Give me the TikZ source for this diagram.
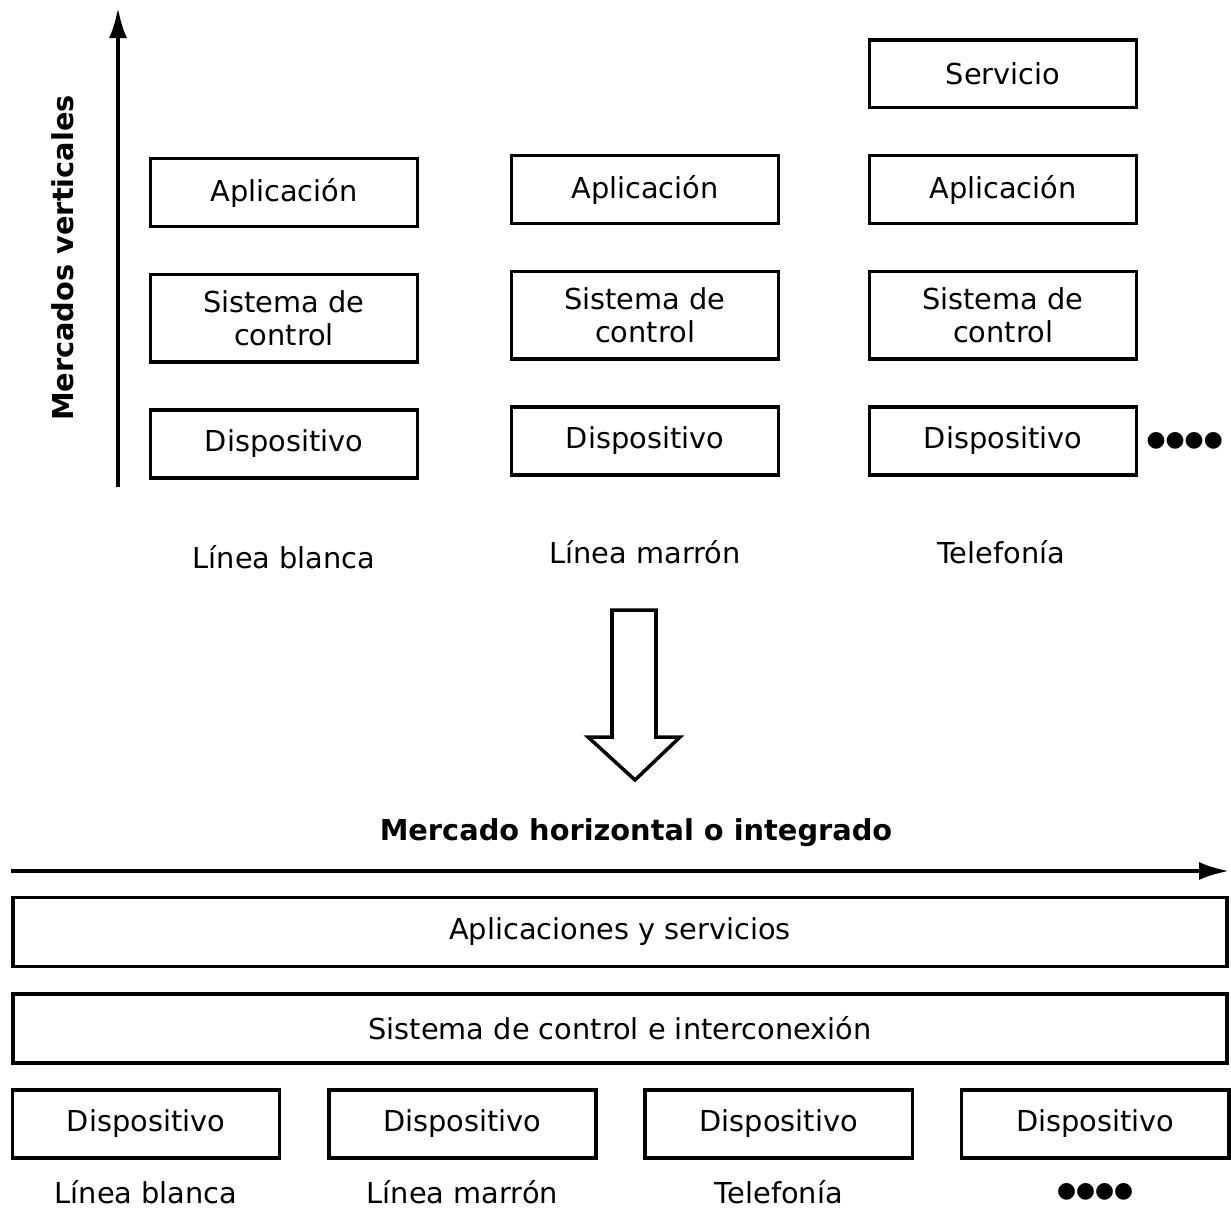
\documentclass[tikz,border=0pt]{standalone}
\usepackage{fontspec}
\setmainfont{DejaVu Sans}
\usetikzlibrary{arrows.meta, positioning}

\begin{document}
\begin{tikzpicture}[
    x=0.025cm, y=-0.025cm,
    node distance=1.12cm and 1.14cm,
    font=\fontsize{20.5}{24}\selectfont,
    layer/.style={rectangle, draw, line width=2.5pt, minimum width=6.68cm, minimum height=1.69cm, align=center, inner sep=0pt},
    ctrl/.style={layer, minimum height=2.18cm},
    wide/.style={layer, minimum width=30.35cm, minimum height=1.72cm},
    axis/.style={line width=2.5pt, -{Latex[length=0.75cm, width=0.45cm]}},
    caption/.style={font=\fontsize{20.5}{24}\selectfont\bfseries},
    dots/.style={inner sep=0pt, font=\fontsize{15.5}{18}\selectfont}
]
\useasboundingbox (0,0) rectangle (1231,1211);

% Vertical markets
\node [layer] (disp-blanca) at (284,444) {Dispositivo};
\node [ctrl, above=of disp-blanca] (ctrl-blanca) {Sistema de\\control};
\node [layer, above=of ctrl-blanca] (app-blanca) {Aplicación};

\node [layer] (disp-marron) at (645,441) {Dispositivo};
\node [ctrl, above=of disp-marron] (ctrl-marron) {Sistema de\\control};
\node [layer, above=of ctrl-marron] (app-marron) {Aplicación};

\node [layer] (disp-tele) at (1003,441) {Dispositivo};
\node [ctrl, above=of disp-tele] (ctrl-tele) {Sistema de\\control};
\node [layer, above=of ctrl-tele] (app-tele) {Aplicación};
\node [layer, above=of app-tele] (serv-tele) {Servicio};
\node [dots, right=0.2cm of disp-tele] (dots-tele) {●●●●};

\node (lbl-blanca) at (284,557) {Línea blanca};
\node (lbl-marron) at (645,552) {Línea marrón};
\node (lbl-tele) at (1001,552) {Telefonía};

\coordinate (vaxis-foot) at (118,487);
\coordinate (vaxis-tip) at (118,8);
\draw[axis] (vaxis-foot) -- (vaxis-tip);
\node [caption, rotate=90] (vert-title) at (63,258) {Mercados verticales};

% Transition
\draw[line width=2.5pt] (612,610) -- (656,610) -- (656,737) -- (680,737) -- (635,780) -- (588,737) -- (612,737) -- cycle;

% Horizontal market
\node [caption] (horiz-title) at (636,833) {Mercado horizontal o integrado};
\coordinate (haxis-start) at (11,871);
\coordinate (haxis-tip) at (1229,871);
\draw[axis] (haxis-start) -- (haxis-tip);

\node [wide] (apps) at (620,932) {Aplicaciones y servicios};
\node [wide, below=0.6cm of apps] (ctrl-int) {Sistema de control e interconexión};

\node [layer] (disp-1) at (146,1124) {Dispositivo};
\node [layer, right=of disp-1] (disp-2) {Dispositivo};
\node [layer, right=of disp-2] (disp-3) {Dispositivo};
\node [layer, right=of disp-3] (disp-4) {Dispositivo};

\coordinate (label-row) at (0,1192);
\node (lbl-1) at (disp-1 |- label-row) {Línea blanca};
\node (lbl-2) at (disp-2 |- label-row) {Línea marrón};
\node (lbl-3) at (disp-3 |- label-row) {Telefonía};
\node [dots] (lbl-4) at (disp-4 |- label-row) {●●●●};
\end{tikzpicture}
\end{document}
